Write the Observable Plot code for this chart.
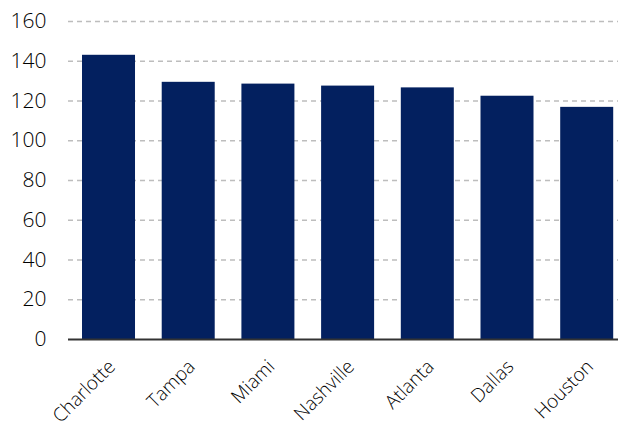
<!DOCTYPE html>
<html>
<head>
<meta charset="utf-8">
<script src="https://cdn.jsdelivr.net/npm/d3@7"></script>
<script src="https://cdn.jsdelivr.net/npm/@observablehq/plot@0.6"></script>
<style>
  html, body { margin: 0; padding: 0; background: #fff; }
  #chart svg { display: block; }
</style>
</head>
<body>
<div id="chart"></div>
<script>
// Metro areas and their index values
const cities = ["Charlotte", "Tampa", "Miami", "Nashville", "Atlanta", "Dallas", "Houston"];
const values = [143.0, 129.4, 128.5, 127.5, 126.6, 122.4, 116.8];
const yTicks = [0, 20, 40, 60, 80, 100, 120, 140, 160];

const data = cities.map((city, i) => ({city, value: values[i]}));

const font = "'Open Sans', 'Noto Sans', sans-serif";
const navy = "#03205f";

const chart = Plot.plot({
  width: 618,
  height: 427,
  marginLeft: 68,
  marginRight: 0,
  marginTop: 21,
  marginBottom: 88,
  style: {fontFamily: font, fontSize: "20px", color: "#111", background: "#fff"},
  x: {domain: cities, paddingInner: 0.335, paddingOuter: 0.118, align: 0.745, round: false, axis: null},
  y: {domain: [0, 160], axis: null},
  marks: [
    Plot.gridY(yTicks.filter(t => t > 0), {stroke: "#bdbdbd", strokeOpacity: 1, strokeWidth: 1.3, strokeDasharray: "5,4"}),
    Plot.barY(data, {x: "city", y: "value", fill: navy}),
    Plot.ruleY([0], {stroke: "#333", strokeWidth: 2}),
    Plot.axisY({ticks: yTicks, tickSize: 0, tickPadding: 22, fontSize: 21, fontWeight: 300, fill: "#000", label: null}),
    Plot.text(cities, {
      x: d => d,
      frameAnchor: "bottom",
      dx: 3,
      dy: 24,
      rotate: -45,
      textAnchor: "end",
      lineAnchor: "middle",
      fontSize: 19,
      fontWeight: 300,
      fill: "#000"
    })
  ]
});

document.getElementById("chart").append(chart);
</script>
</body>
</html>
